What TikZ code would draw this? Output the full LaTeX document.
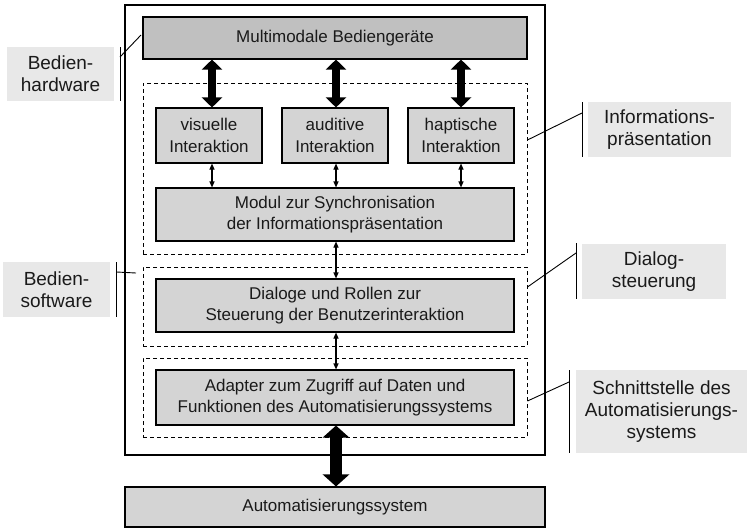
\documentclass[tikz,border=0pt]{standalone}
\usepackage{fontspec}
\setmainfont{Liberation Sans}
\usetikzlibrary{arrows.meta}
\definecolor{boxgray}{RGB}{212,212,212}
\definecolor{topgray}{RGB}{192,192,192}
\definecolor{lblgray}{RGB}{232,232,232}
\definecolor{textdark}{RGB}{26,26,26}
\newcommand\myboxfont{\fontsize{17}{21.7}\selectfont}
\newcommand\mylblfont{\fontsize{19}{21.7}\selectfont}
\begin{document}
\begin{tikzpicture}[x=1pt,y=-1pt,
  box/.style={draw=black, line width=1.1pt, fill=boxgray, align=center, font=\myboxfont, text=textdark, inner sep=0pt},
  framebox/.style={draw=black, line width=1.2pt, fill=white, inner sep=0pt},
  dashbox/.style={draw=black, line width=0.9pt, dash pattern=on 4pt off 3pt, inner sep=0pt},
  lbl/.style={fill=lblgray, align=center, font=\mylblfont, text=textdark, inner sep=0pt},
  leader/.style={draw=black, line width=0.9pt},
  bigarrow/.style={line width=8pt, {Triangle[width=20pt,length=10pt]}-{Triangle[width=20pt,length=10pt]}},
  bigarrowB/.style={line width=12pt, {Triangle[width=26pt,length=12pt]}-{Triangle[width=26pt,length=12pt]}},
  smallarrow/.style={line width=1.1pt, {Triangle[width=5pt,length=6pt]}-{Triangle[width=5pt,length=6pt]}}
]
\useasboundingbox (0,0) rectangle (747,531);

% outer frame
\node[framebox, minimum width=420pt, minimum height=450pt] (frame) at (335,230) {};

% dashed groups
\node[dashbox, minimum width=384pt, minimum height=171pt] (dA) at (335,168.5) {};
\node[dashbox, minimum width=384pt, minimum height=79pt] (dB) at (335,306.5) {};
\node[dashbox, minimum width=384pt, minimum height=79pt] (dC) at (335,397.5) {};

% boxes
\node[box, fill=topgray, minimum width=384pt, minimum height=42pt] (top) at (335,38) {Multimodale Bediengeräte};
\node[box, minimum width=106pt, minimum height=55pt] (vis) at (209,135.5) {visuelle\\Interaktion};
\node[box, minimum width=106pt, minimum height=55pt] (aud) at (335,135.5) {auditive\\Interaktion};
\node[box, minimum width=106pt, minimum height=55pt] (hap) at (461,135.5) {haptische\\Interaktion};
\node[box, minimum width=358pt, minimum height=53pt] (sync) at (335,214.5) {Modul zur Synchronisation\\der Informationspräsentation};
\node[box, minimum width=358pt, minimum height=53pt] (dial) at (335,305.5) {Dialoge und Rollen zur\\Steuerung der Benutzerinteraktion};
\node[box, minimum width=358pt, minimum height=55pt] (adap) at (335,397.5) {Adapter zum Zugriff auf Daten und\\Funktionen des Automatisierungssystems};
\node[box, minimum width=420pt, minimum height=40pt] (auto) at (335,507) {Automatisierungssystem};

% arrow axes
\coordinate (ax1) at (212,0);
\coordinate (ax2) at (336,0);
\coordinate (ax3) at (461,0);

% thick arrows
\draw[bigarrow] (top.south -| ax1) -- (vis.north -| ax1);
\draw[bigarrow] (top.south -| ax2) -- (aud.north -| ax2);
\draw[bigarrow] (top.south -| ax3) -- (hap.north -| ax3);
\draw[bigarrowB] (adap.south -| ax2) -- (auto.north -| ax2);

% small arrows
\draw[smallarrow] (vis.south -| ax1) -- (sync.north -| ax1);
\draw[smallarrow] (aud.south -| ax2) -- (sync.north -| ax2);
\draw[smallarrow] (hap.south -| ax3) -- (sync.north -| ax3);
\draw[smallarrow] (sync.south -| ax2) -- (dial.north -| ax2);
\draw[smallarrow] (dial.south -| ax2) -- (adap.north -| ax2);

% labels
\node[lbl, minimum width=107pt, minimum height=54pt] (lhw) at (60.5,74) {Bedien-\\hardware};
\node[lbl, minimum width=107pt, minimum height=55pt] (lsw) at (56.5,289.5) {Bedien-\\software};
\node[lbl, minimum width=143pt, minimum height=55pt] (linfo) at (659.5,129.5) {Informations-\\präsentation};
\node[lbl, minimum width=144pt, minimum height=55pt] (ldial) at (654,271.5) {Dialog-\\steuerung};
\node[lbl, minimum width=171pt, minimum height=83pt] (lschn) at (661.5,411.5) {Schnittstelle des\\Automatisierungs-\\systems};

% leader bars and lines
\coordinate (hwa) at (120,47);  \coordinate (hwb) at (120,101);
\coordinate (hwk) at (120,57);  \coordinate (hwe) at (141,35);
\draw[leader] (hwa) -- (hwb);
\draw[leader] (hwk) -- (hwe);

\coordinate (swa) at (116.5,262); \coordinate (swb) at (116.5,317);
\coordinate (swk) at (116.5,272); \coordinate (swe) at (136,273);
\draw[leader] (swa) -- (swb);
\draw[leader] (swk) -- (swe);

\coordinate (ina) at (582,102); \coordinate (inb) at (582,157);
\coordinate (ink) at (582,113); \coordinate (ine) at (dA.east |- 0,140);
\draw[leader] (ina) -- (inb);
\draw[leader] (ink) -- (ine);

\coordinate (dla) at (576,243); \coordinate (dlb) at (576,299);
\coordinate (dlk) at (576,253); \coordinate (dle) at (dB.east |- 0,287);
\draw[leader] (dla) -- (dlb);
\draw[leader] (dlk) -- (dle);

\coordinate (sca) at (569,370); \coordinate (scb) at (569,453);
\coordinate (sck) at (569,382); \coordinate (sce) at (dC.east |- 0,401);
\draw[leader] (sca) -- (scb);
\draw[leader] (sck) -- (sce);
\end{tikzpicture}
\end{document}
